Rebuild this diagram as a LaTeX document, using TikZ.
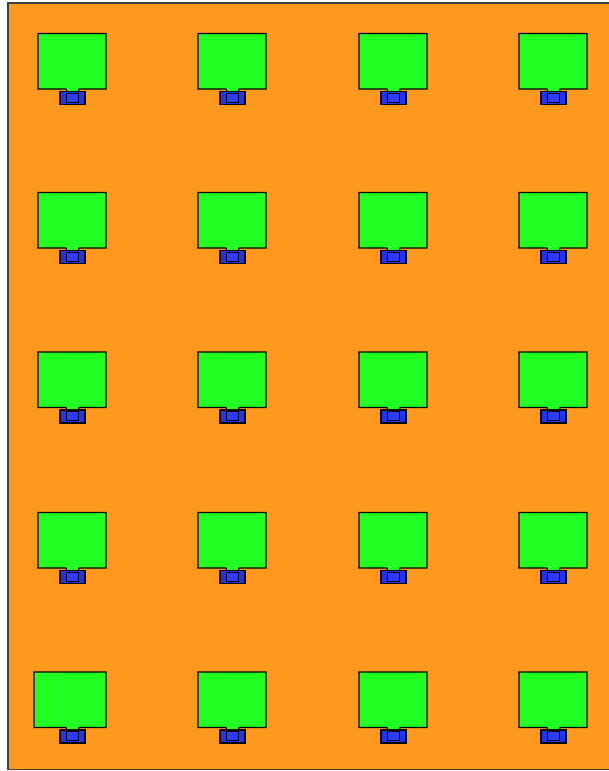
\documentclass[tikz,border=0pt]{standalone}
\definecolor{bgorange}{RGB}{255,153,30}
\definecolor{boxgreen}{RGB}{34,255,34}
\definecolor{boxblue}{RGB}{34,51,235}
\definecolor{innerblue}{RGB}{45,60,255}
\tikzset{
  greenbox/.style={fill=boxgreen,draw=black,line width=1.2pt,line join=miter},
  bluebox/.style={fill=boxblue,draw=black,line width=1.2pt},
  innerbox/.style={fill=innerblue,draw=black,line width=0.8pt},
  pics/cell/.style={code={
    \draw[greenbox] (0,0) -- (68,0) -- (68,55.5) -- (41,55.5) -- (40,59) -- (29,59) -- (28,55.5) -- (0,55.5) -- cycle;
    \draw[bluebox] (22,58) rectangle (47,71);
    \draw[innerbox] (28,59.5) rectangle (40,68.5);
  }},
  pics/widecell/.style={code={
    \draw[greenbox] (-4,0) -- (68,0) -- (68,55.5) -- (41,55.5) -- (40,59) -- (29,59) -- (28,55.5) -- (-4,55.5) -- cycle;
    \draw[bluebox] (22,58) rectangle (47,71);
    \draw[innerbox] (28,59.5) rectangle (40,68.5);
  }}
}
\begin{document}
\begin{tikzpicture}[x=1pt,y=-1pt]
\useasboundingbox (0,0) rectangle (609,771);
\draw[fill=bgorange,draw=black!75,line width=1.3pt] (8,3) rectangle (615,769.5);
\foreach \gy in {33.5,192.5,352,512.5}{
  \foreach \gx in {38,198,359,519}{
    \pic at (\gx,\gy) {cell};
  }
}
\pic at (38,672) {widecell};
\foreach \gx in {198,359,519}{
  \pic at (\gx,672) {cell};
}
\end{tikzpicture}
\end{document}
